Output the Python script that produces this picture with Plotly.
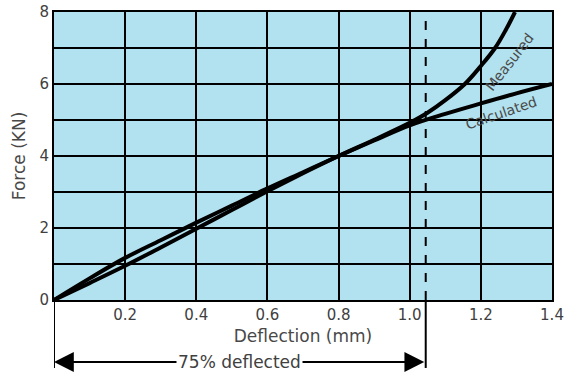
import plotly.graph_objects as go

# Data
calc_x = [0, 0.1, 0.2, 0.3, 0.4, 0.5, 0.6, 0.7, 0.8, 0.9, 1.0, 1.1, 1.2, 1.3, 1.4]
calc_y = [0, 0.6, 1.17, 1.66, 2.15, 2.62, 3.1, 3.55, 4.0, 4.43, 4.85, 5.17, 5.46, 5.74, 6.0]

meas_x = [0, 0.1, 0.2, 0.3, 0.4, 0.5, 0.6, 0.7, 0.8, 0.9, 1.0, 1.05, 1.1, 1.155, 1.2, 1.24, 1.27, 1.296]
meas_y = [0, 0.47, 0.95, 1.46, 1.98, 2.5, 3.02, 3.52, 4.0, 4.45, 4.92, 5.2, 5.55, 6.0, 6.5, 7.0, 7.5, 8.0]

x_ticks = [0.2, 0.4, 0.6, 0.8, 1.0, 1.2, 1.4]
x_tick_labels = ["0.2", "0.4", "0.6", "0.8", "1.0", "1.2", "1.4"]
y_ticks = [0, 2, 4, 6, 8]
y_tick_labels = ["0", "2", "4", "6", "8"]

limit_x = 1.045  # 75% deflected marker

txt = "#404040"
fam = "DejaVu Sans, Verdana, sans-serif"
font = dict(family=fam, size=15, color=txt)
title_font = dict(family=fam, size=17, color="#484848")

fig = go.Figure()
fig.add_trace(go.Scatter(x=calc_x, y=calc_y, mode="lines", line=dict(color="black", width=4, shape="spline"),
                         name="Calculated", hoverinfo="skip"))
fig.add_trace(go.Scatter(x=meas_x, y=meas_y, mode="lines", line=dict(color="black", width=4, shape="spline"),
                         name="Measured", hoverinfo="skip"))

# dashed limit line inside the plot, solid below
fig.add_shape(type="line", xref="x", yref="y", x0=limit_x, x1=limit_x, y0=0, y1=8,
              line=dict(color="black", width=2, dash="dash"), layer="above")
for xv in [0, limit_x]:
    fig.add_shape(type="line", xref="x", yref="paper", x0=xv, x1=xv, y0=0, y1=-0.236,
                  line=dict(color="black", width=2))

# double arrow
fig.add_annotation(x=0, y=-0.2153, xref="x", yref="paper", ax=limit_x, ay=0, axref="x", ayref="pixel",
                   text="", showarrow=True, arrowhead=2, arrowside="end+start", arrowsize=2.2,
                   arrowwidth=1.8, arrowcolor="black")
fig.add_annotation(x=limit_x / 2, y=-0.2153, xref="x", yref="paper", yanchor="middle",
                   text="75% deflected", showarrow=False, bgcolor="white",
                   font=dict(family=fam, size=17, color=txt), borderpad=1)

fig.add_annotation(x=1.28, y=6.62, xref="x", yref="y", text="Measured", showarrow=False,
                   textangle=-52, font=dict(family=fam, size=14, color="#4a4a4a"))
fig.add_annotation(x=1.257, y=5.2, xref="x", yref="y", text="Calculated", showarrow=False,
                   textangle=-19, font=dict(family=fam, size=14, color="#4a4a4a"))

fig.update_layout(
    width=564, height=372,
    margin=dict(l=54, r=12, t=12, b=72),
    paper_bgcolor="white",
    plot_bgcolor="#b2e2ef",
    showlegend=False,
    font=font,
    xaxis=dict(range=[0, 1.4], tickvals=x_ticks, ticktext=x_tick_labels, showgrid=True,
               gridcolor="black", gridwidth=2, zeroline=False, showline=True, linecolor="black",
               linewidth=2, mirror=True, ticks="", automargin=False, ticklabeloverflow="allow",
               title=dict(text="Deflection (mm)", standoff=7, font=title_font), tickfont=font),
    yaxis=dict(range=[0, 8], tickvals=y_ticks, ticktext=y_tick_labels, showgrid=True,
               gridcolor="black", gridwidth=2, zeroline=False, showline=True, linecolor="black",
               linewidth=2, mirror=True, ticks="", automargin=False, ticklabeloverflow="allow",
               title=dict(text="Force (KN)", standoff=10, font=title_font), tickfont=font,
               minor=dict(dtick=1, showgrid=True, gridcolor="black", gridwidth=2, ticks="")),
)

fig.write_html("out.html", config={"displayModeBar": False},
               post_script="document.body.style.margin='0';")
